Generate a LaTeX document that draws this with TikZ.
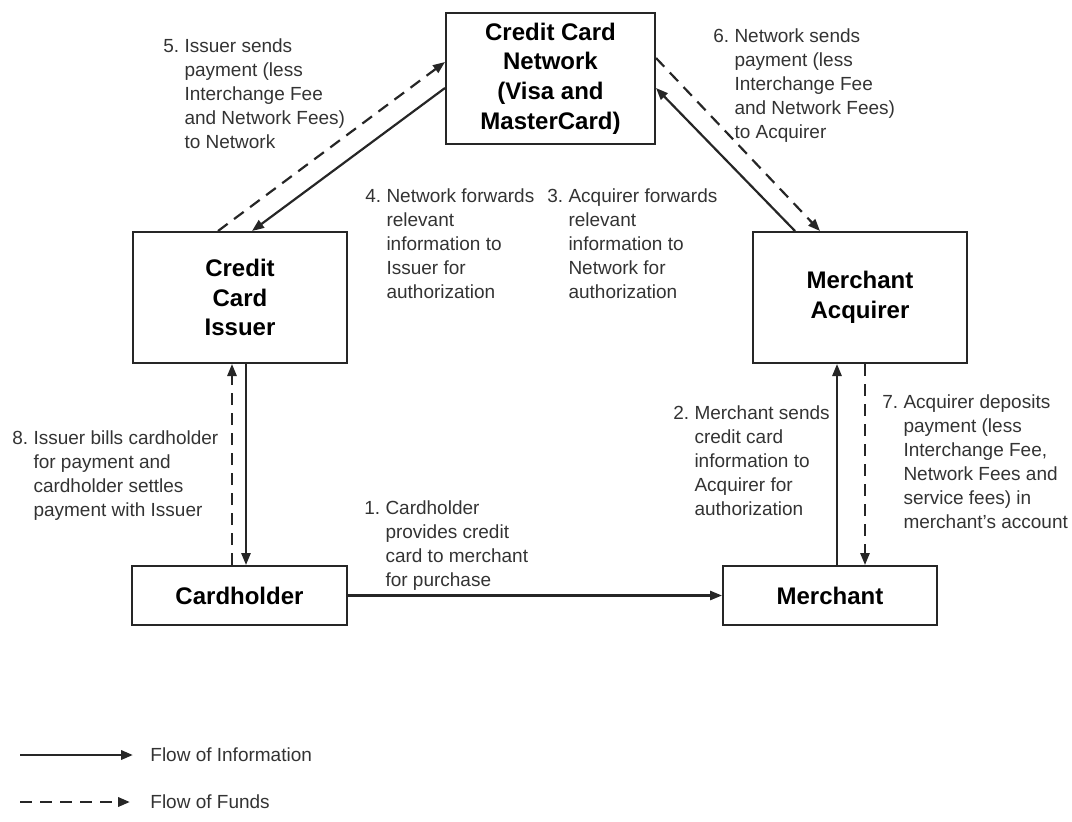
\documentclass[tikz,border=0pt]{standalone}
\usepackage{fontspec}
\setmainfont{Liberation Sans}
\usetikzlibrary{arrows.meta}
\newcommand{\numtext}[2]{#1\ \begin{tabular}[t]{@{}l@{}}#2\end{tabular}}

\begin{document}
\begin{tikzpicture}[
    x=0.5pt, y=-0.5pt,
    box/.style={draw=black!85, line width=1pt, align=center, inner sep=0pt, font=\fontsize{12}{14.8}\selectfont\bfseries},
    info/.style={-{Triangle[length=6pt, width=4.6pt]}, line width=1.1pt, black!85},
    fund/.style={info, dash pattern=on 6pt off 4pt},
    txt/.style={font=\fontsize{9.5}{12}\selectfont, text=black!80, inner sep=0pt, anchor=base west},
]
\useasboundingbox (0,0) rectangle (1072,821);

\node[box, minimum width=104.5pt, minimum height=65.5pt] (net) at (550.5,78.5) {Credit Card\\Network\\(Visa and\\MasterCard)};
\node[box, minimum width=107pt, minimum height=65.5pt] (iss) at (240,297.5) {Credit\\Card\\Issuer};
\node[box, minimum width=107pt, minimum height=65.5pt] (acq) at (860,297.5) {Merchant\\Acquirer};
\node[box, minimum width=107.5pt, minimum height=29.5pt] (ch) at (239.5,595.5) {Cardholder};
\node[box, minimum width=107pt, minimum height=29.5pt] (mer) at (830,595.5) {Merchant};

\draw[info] (ch) -- (mer);
\draw[info] (mer.north -| 837,0) -- (acq.south -| 837,0);
\draw[fund] (acq.south -| 865,0) -- (mer.north -| 865,0);
\draw[info] (acq.north -| 795,0) -- (net.east |- 0,88);
\draw[fund] (net.east |- 0,58) -- (acq.north -| 820,0);
\draw[info] (net.west |- 0,88) -- (iss.north -| 252,0);
\draw[fund] (iss.north -| 218,0) -- (net.west |- 0,62);
\draw[fund] (ch.north -| 232,0) -- (iss.south -| 232,0);
\draw[info] (iss.south -| 246,0) -- (ch.north -| 246,0);

\node[txt] (l1) at (364,514) {\numtext{1.}{Cardholder\\provides credit\\card to merchant\\for purchase}};
\node[txt] (l2) at (673,419) {\numtext{2.}{Merchant sends\\credit card\\information to\\Acquirer for\\authorization}};
\node[txt] (l3) at (547,202) {\numtext{3.}{Acquirer forwards\\relevant\\information to\\Network for\\authorization}};
\node[txt] (l4) at (365,202) {\numtext{4.}{Network forwards\\relevant\\information to\\Issuer for\\authorization}};
\node[txt] (l5) at (163,52) {\numtext{5.}{Issuer sends\\payment (less\\Interchange Fee\\and Network Fees)\\to Network}};
\node[txt] (l6) at (713,42) {\numtext{6.}{Network sends\\payment (less\\Interchange Fee\\and Network Fees)\\to Acquirer}};
\node[txt] (l7) at (882,408) {\numtext{7.}{Acquirer deposits\\payment (less\\Interchange Fee,\\Network Fees and\\service fees) in\\merchant's account}};
\node[txt] (l8) at (12,444) {\numtext{8.}{Issuer bills cardholder\\for payment and\\cardholder settles\\payment with Issuer}};

\coordinate (infoA) at (20,755);
\coordinate (infoB) at (133,755);
\draw[info, line width=1.4pt] (infoA) -- (infoB);
\node[txt, anchor=west] (infoLbl) at (150,755) {Flow of Information};
\coordinate (fundA) at (20,802);
\coordinate (fundB) at (130,802);
\draw[fund, line width=1.4pt] (fundA) -- (fundB);
\node[txt, anchor=west] (fundLbl) at (150,802) {Flow of Funds};
\end{tikzpicture}
\end{document}
